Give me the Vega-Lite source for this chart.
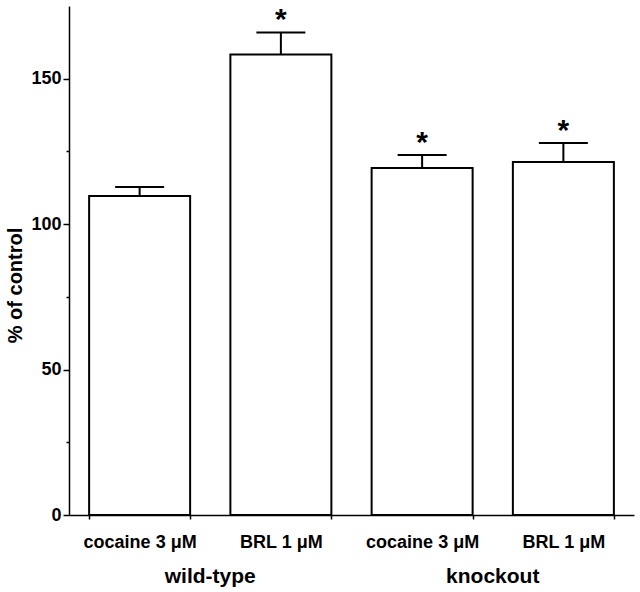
{
  "$schema": "https://vega.github.io/schema/vega-lite/v6.json",
  "autosize": "none",
  "width": 565,
  "height": 509,
  "padding": {"left": 69, "top": 6, "right": 6, "bottom": 77},
  "background": "white",
  "config": {
    "font": "Liberation Sans",
    "view": {"stroke": null},
    "axis": {"domainColor": "black", "tickColor": "black", "labelColor": "black", "titleColor": "black", "domainWidth": 1.5, "tickWidth": 1.5, "grid": false, "labelFont": "Liberation Sans", "titleFont": "Liberation Sans", "labelFontWeight": "bold", "titleFontWeight": "bold"}
  },
  "data": {
    "values": [
      {"key": "wild-type|cocaine 3 μM", "group": "wild-type", "value": 109.7, "err": 112.8, "sig": ""},
      {"key": "wild-type|BRL 1 μM", "group": "wild-type", "value": 158.3, "err": 165.9, "sig": "*"},
      {"key": "knockout|cocaine 3 μM", "group": "knockout", "value": 119.3, "err": 123.8, "sig": "*"},
      {"key": "knockout|BRL 1 μM", "group": "knockout", "value": 121.4, "err": 127.9, "sig": "*"}
    ]
  },
  "layer": [
    {
      "layer": [
        {
          "mark": {"type": "bar", "fill": "white", "stroke": "black", "strokeWidth": 2},
          "encoding": {
            "x": {
              "field": "key", "type": "nominal", "sort": null,
              "scale": {"paddingInner": 0.285, "paddingOuter": 0.1425},
              "axis": {
                "title": null, "labelAngle": 0,
                "labelExpr": "split(datum.label, '|')[1]",
                "labelFontSize": 18, "labelPadding": 14, "tickSize": 4,
                "tickBand": "extent", "tickExtra": true
              }
            },
            "y": {
              "field": "value", "type": "quantitative",
              "scale": {"domain": [0, 175], "nice": false},
              "axis": {
                "title": "% of control", "titleFontSize": 20,
                "titleX": -54, "titleY": 279, "titleBaseline": "middle", "titleAngle": -90,
                "values": [0, 25, 50, 75, 100, 125, 150],
                "labelExpr": "datum.value % 50 === 0 ? datum.label : ''",
                "labelFontSize": 18, "labelPadding": 2,
                "tickSize": {"condition": {"test": "datum.value % 50 === 0", "value": 6}, "value": 3}
              }
            }
          }
        },
        {
          "mark": {"type": "rule", "stroke": "black", "strokeWidth": 2},
          "encoding": {
            "x": {"field": "key", "type": "nominal", "sort": null},
            "y": {"field": "value", "type": "quantitative"},
            "y2": {"field": "err"}
          }
        },
        {
          "mark": {"type": "tick", "color": "black", "size": 49, "thickness": 2, "opacity": 1},
          "encoding": {
            "x": {"field": "key", "type": "nominal", "sort": null},
            "y": {"field": "err", "type": "quantitative"}
          }
        },
        {
          "mark": {"type": "text", "fontSize": 30, "fontWeight": "bold", "baseline": "middle", "dy": -12, "color": "black"},
          "encoding": {
            "x": {"field": "key", "type": "nominal", "sort": null},
            "y": {"field": "err", "type": "quantitative"},
            "text": {"field": "sig"}
          }
        }
      ]
    },
    {
      "mark": {"type": "rule", "opacity": 0},
      "encoding": {
        "x": {
          "field": "group", "type": "nominal", "sort": null,
          "scale": {"paddingInner": 0, "paddingOuter": 0},
          "axis": {"orient": "bottom", "title": null, "labelAngle": 0, "domain": false, "ticks": false, "offset": 50, "labelFontSize": 21, "labelPadding": 0}
        }
      }
    }
  ],
  "resolve": {"scale": {"x": "independent"}, "axis": {"x": "independent"}}
}
